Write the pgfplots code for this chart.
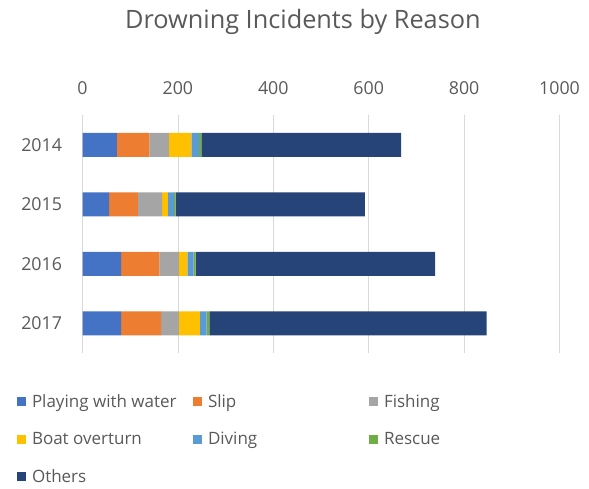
\documentclass[border=0pt]{standalone}
\usepackage{pgfplots}
\pgfplotsset{compat=1.18}
\usepackage{fontspec}
\setmainfont{Open Sans}
\definecolor{cPlay}{HTML}{4472C4}
\definecolor{cSlip}{HTML}{ED7D31}
\definecolor{cFish}{HTML}{A5A5A5}
\definecolor{cBoat}{HTML}{FFC000}
\definecolor{cDive}{HTML}{5B9BD5}
\definecolor{cResc}{HTML}{70AD47}
\definecolor{cOther}{HTML}{264478}
\definecolor{txt}{HTML}{595959}
\definecolor{grd}{HTML}{D9D9D9}
\newcommand{\lentry}[1]{\makebox[163pt][l]{\hspace{4pt}#1}}
\begin{document}
\begin{tikzpicture}
\useasboundingbox (0,0) rectangle (589pt,488pt);
\begin{axis}[
    at={(82.5pt,135pt)}, anchor=south west,
    scale only axis, width=477pt, height=238pt,
    xbar stacked, bar width=24pt,
    xmin=0, xmax=1000,
    ymin=-0.5, ymax=3.5, y dir=reverse,
    ytick={0,1,2,3}, yticklabels={2014,2015,2016,2017},
    xtick={0,200,...,1000},
    xticklabel pos=top,
    axis line style={draw=none},
    major tick style={draw=none},
    xmajorgrids, major grid style={grd, line width=0.8pt},
    tick label style={font=\fontsize{17.8}{21}\selectfont, text=txt},
    xticklabel style={yshift=17pt},
    yticklabel style={xshift=-17pt},
    /pgf/number format/assume math mode=true,
    /pgf/number format/1000 sep={},
    title={Drowning Incidents by Reason},
    title style={at={(0.462,1.366)}, anchor=center, font=\fontsize{25.3}{30}\selectfont, text=txt},
    legend columns=3,
    legend style={at={(-0.144,-0.157)}, anchor=north west, draw=none, fill=none,
        font=\fontsize{17}{20}\selectfont, text=txt, row sep=19.3pt,
        /tikz/every even column/.append style={column sep=0pt}},
    legend cell align=left,
    legend image code/.code={\fill[#1] (0pt,-4.5pt) rectangle (9pt,4.5pt);},
]
\addplot[fill=cPlay, draw=none] coordinates {(72,0) (56,1) (81,2) (81,3)};
\addlegendentry{\lentry{Playing with water}}
\addplot[fill=cSlip, draw=none] coordinates {(68,0) (60,1) (80,2) (84,3)};
\addlegendentry{\lentry{Slip}}
\addplot[fill=cFish, draw=none] coordinates {(41,0) (51,1) (41,2) (37,3)};
\addlegendentry{\lentry{Fishing}}
\addplot[fill=cBoat, draw=none] coordinates {(47,0) (12,1) (18,2) (44,3)};
\addlegendentry{\lentry{Boat overturn}}
\addplot[fill=cDive, draw=none] coordinates {(16,0) (13,1) (13,2) (14,3)};
\addlegendentry{\lentry{Diving}}
\addplot[fill=cResc, draw=none] coordinates {(5,0) (3,1) (4,2) (6,3)};
\addlegendentry{\lentry{Rescue}}
\addplot[fill=cOther, draw=none] coordinates {(419,0) (397,1) (502,2) (581,3)};
\addlegendentry{\lentry{Others}}
\end{axis}
\end{tikzpicture}
\end{document}
